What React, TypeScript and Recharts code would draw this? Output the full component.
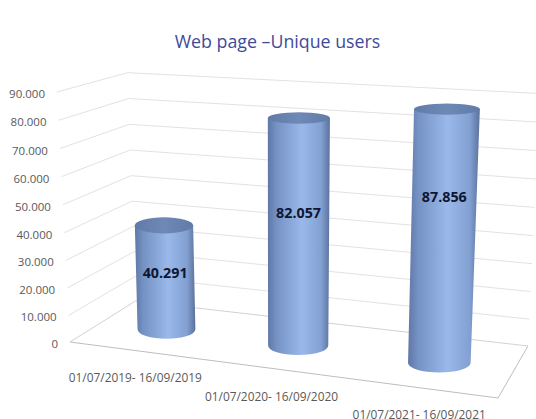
import React from "react";
import { ComposedChart, Bar, XAxis, YAxis, CartesianGrid } from "recharts";

const categories = ["01/07/2019- 16/09/2019", "01/07/2020- 16/09/2020", "01/07/2021- 16/09/2021"];
const uniqueUsers = [40291, 82057, 87856];
const yTicks = [0, 10000, 20000, 30000, 40000, 50000, 60000, 70000, 80000, 90000];
const chartTitle = "Web page –Unique users";

const rows = categories.map((period, i) => ({ period, users: uniqueUsers[i] }));

// Plot frame and the oblique box that the flat chart frame is projected onto.
const W = 536, H = 419;
const PLOT = { left: 70, right: 498, top: 92, bottom: 342 };
const FRONT_L = [[70, 342], [57, 92]];
const BACK_L = [[135.5, 301], [127.5, 72.7]];
const BACK_R = [[528, 346], [540, 93.5]];
const FRONT_R_FLOOR = [498, 398];
const FONT = "'Open Sans', 'Noto Sans', sans-serif";

type P = number[];
const lerp = (a: P, b: P, t: number): P => [a[0] + (b[0] - a[0]) * t, a[1] + (b[1] - a[1]) * t];
const heightOf = (y: number) => (PLOT.bottom - y) / (PLOT.bottom - PLOT.top);
const warp = (h: number) => Math.pow(Math.max(h, 0), 1.02);
const fmt = (v: number) => String(v).replace(/\B(?=(\d{3})+$)/g, ".");
const quad = (u: number, a: number, b: number, c: number) => a + b * u + c * u * u;

const gridLine = (props: any) => {
  const h = warp(heightOf(props.y1));
  const a = lerp(FRONT_L[0], FRONT_L[1], h);
  const b = lerp(BACK_L[0], BACK_L[1], h);
  const c = lerp(BACK_R[0], BACK_R[1], h);
  const isFloor = h < 0.001;
  return (
    <g key={props.key ?? props.y1}>
      <polyline points={`${a} ${b} ${c}`} fill="none" stroke={isFloor ? "#d2d2d2" : "#e2e2e2"} strokeWidth={1} />
      {isFloor && (
        <polyline points={`${a} ${FRONT_R_FLOOR} ${c}`} fill="none" stroke="#bdbdbd" strokeWidth={1} />
      )}
    </g>
  );
};

const YTick = (props: any) => {
  const h = warp(heightOf(props.y));
  const p = lerp(FRONT_L[0], FRONT_L[1], h);
  return (
    <text x={p[0] - 12} y={p[1] + 1.5} textAnchor="end" dominantBaseline="central" fontFamily={FONT} fontSize={11.5} fill="#595959">
      {fmt(props.payload.value)}
    </text>
  );
};

const XTick = (props: any) => {
  const u = (props.x - PLOT.left) / (PLOT.right - PLOT.left);
  const edge = lerp(FRONT_L[0], FRONT_R_FLOOR, u);
  return (
    <text x={edge[0] + quad(u, 1.56, -54, 51.75)} y={edge[1] + 25.5} textAnchor="middle" dominantBaseline="central" fontFamily={FONT} fontSize={11.9} fill="#595959">
      {props.payload.value}
    </text>
  );
};

const Cylinder = (props: any) => {
  const { x, width, height, index, value } = props;
  const u = (x + width / 2 - PLOT.left) / (PLOT.right - PLOT.left);
  const du = quad(u, 0.0031, 0.894, 0.1035);
  const front = lerp(FRONT_L[0], FRONT_R_FLOOR, du);
  const back = lerp(BACK_L[0], BACK_R[0], du);
  const base = lerp(front, back, 0.5);
  const h = height * quad(u, 0.8844, 0.288, -0.1215);
  const bx = base[0], by = base[1];
  const tx = bx + (-0.0375 + 0.081 * u) * h;
  const ty = by - h;
  const rx = (width / 2) * (0.96 + 0.12 * u);
  const trx = rx * (1 + (0.01 + 0.05 * u) * (h / 250));
  const ry = 9.5;
  const try_ = 3.2 + 0.0216 * ty;
  const frac = quad(u, 0.4577, -0.0048, -0.157);
  const gid = `cyl-body-${index}`;
  const tid = `cyl-top-${index}`;
  return (
    <g>
      <defs>
        <linearGradient id={gid} x1="0" x2="1" y1="0" y2="0">
          <stop offset="0" stopColor="#5f78a6" />
          <stop offset="0.14" stopColor="#7592c4" />
          <stop offset="0.55" stopColor="#9ab8ea" />
          <stop offset="0.86" stopColor="#82a0d2" />
          <stop offset="1" stopColor="#5b719b" />
        </linearGradient>
        <linearGradient id={tid} x1="0" x2="1" y1="0" y2="0">
          <stop offset="0" stopColor="#617ba9" />
          <stop offset="0.5" stopColor="#6f89b7" />
          <stop offset="1" stopColor="#617ba9" />
        </linearGradient>
      </defs>
      <path
        d={`M${tx - trx},${ty} L${bx - rx},${by} A${rx},${ry} 0 0 0 ${bx + rx},${by} L${tx + trx},${ty} Z`}
        fill={`url(#${gid})`}
      />
      <ellipse cx={tx} cy={ty} rx={trx} ry={try_} fill={`url(#${tid})`} />
      <text
        x={tx + (bx - tx) * frac}
        y={ty + h * frac}
        textAnchor="middle"
        dominantBaseline="central"
        fontFamily={FONT}
        fontWeight={700}
        fontSize={14.3}
        fill="#0e1630"
      >
        {fmt(value)}
      </text>
    </g>
  );
};

export default function App() {
  return (
    <div style={{ position: "fixed", left: 0, top: 0, width: W, height: H, background: "#fff", overflow: "hidden" }}>
      <div
        style={{
          position: "absolute", left: 0, top: 29, width: 555, textAlign: "center",
          fontFamily: FONT, fontSize: 17.8, lineHeight: "24px", color: "#3f4a9a",
        }}
      >
        {chartTitle}
      </div>
      <ComposedChart
        width={W}
        height={H}
        data={rows}
        margin={{ left: 0, right: W - PLOT.right, top: PLOT.top, bottom: 0 }}
        barCategoryGap={42}
      >
        <CartesianGrid vertical={false} horizontal={gridLine} />
        <XAxis dataKey="period" height={H - PLOT.bottom} axisLine={false} tickLine={false} interval={0} tick={XTick} />
        <YAxis width={PLOT.left} domain={[0, 90000]} ticks={yTicks} axisLine={false} tickLine={false} interval={0} tick={YTick} />
        <Bar dataKey="users" shape={Cylinder} isAnimationActive={false} />
      </ComposedChart>
    </div>
  );
}
